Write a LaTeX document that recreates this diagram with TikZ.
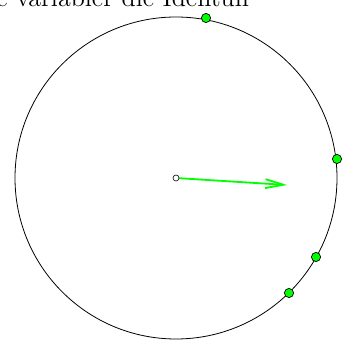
\documentclass[tikz,border=0pt]{standalone}
\usetikzlibrary{arrows.meta}
\definecolor{gbGreen}{HTML}{00FF00}
\definecolor{gbInk}{HTML}{000000}
\tikzset{
  gb circle/.style={draw=gbInk, line width=.4pt},
  gb point/.style={circle, draw=gbInk, fill=gbGreen, line width=.35pt, inner sep=0pt, minimum size=4.6pt},
  gb origin/.style={circle, draw=gbInk, fill=white, line width=.3pt, inner sep=0pt, minimum size=3pt},
  gb vector/.style={
    draw=gbGreen,
    line width=.9pt,
    -{Straight Barb[length=9pt,width=4.5pt]}
  },
  gb title/.style={font=\fontsize{13}{15.5}\selectfont, text=gbInk}
}
\begin{document}
\begin{tikzpicture}[x=.5pt,y=-.5pt]
  \useasboundingbox (0,0) rectangle (342,340);
  \coordinate (M) at (176,178);
  \coordinate (V) at (287,185);

  \draw[gb circle] (M) circle[radius=161];
  \node[gb title, anchor=base east] (title) at (256,7) {e variabler die Identun};

  \node[gb point] (P1) at (206,18) {};
  \node[gb point] (P2) at (337,159) {};
  \node[gb point] (P3) at (316,257) {};
  \node[gb point] (P4) at (289,293) {};

  \draw[gb vector] (M) -- (V);
  \node[gb origin] (O) at (M) {};
\end{tikzpicture}
\end{document}
